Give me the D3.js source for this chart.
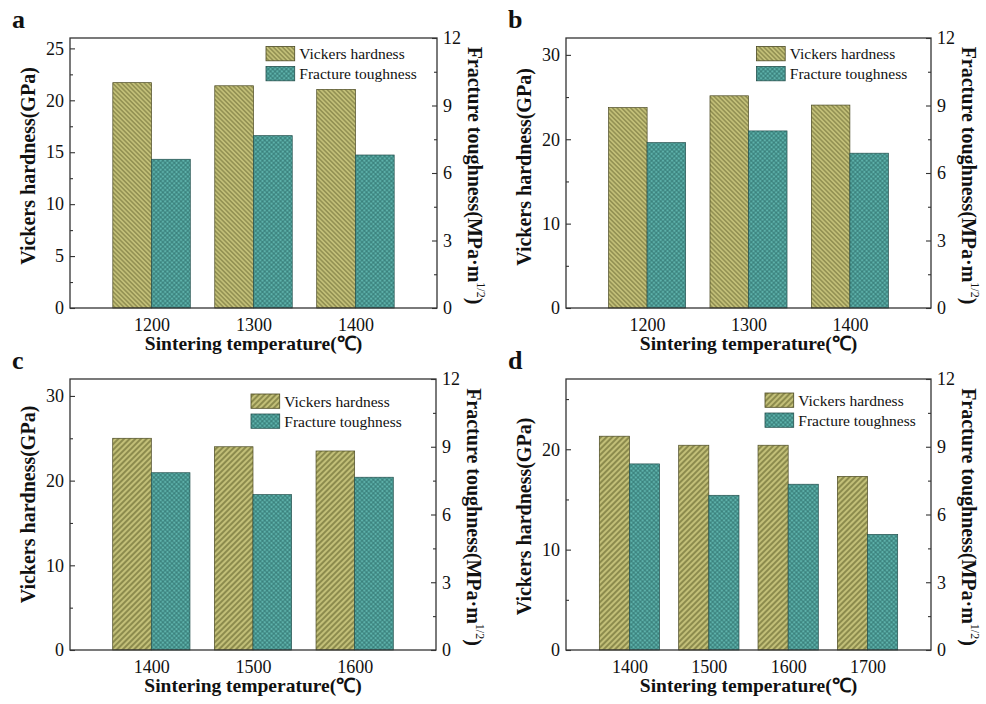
<!DOCTYPE html>
<html>
<head>
<meta charset="utf-8">
<script src="https://cdn.jsdelivr.net/npm/d3@7"></script>
<style>
  body { margin: 0; background: #fff; }
  svg { display: block; }
  text { font-family: "Liberation Serif", "Times New Roman", serif; fill: #111; }
  .tick text { font-size: 18px; font-family: "Liberation Serif", "Times New Roman", serif; }
  .tick line { stroke: #333; stroke-width: 1.1; }
  .title { font-size: 20px; font-weight: bold; }
  .xtitle { font-size: 19.5px; font-weight: bold; }
  .legend text { font-size: 15.5px; }
  .panel-letter { font-size: 26px; font-weight: bold; }
</style>
</head>
<body>
<svg id="fig" width="986" height="704" font-family="Liberation Serif, serif"></svg>
<script>
// Sintering temperatures (°C)
const tempsA = ["1200", "1300", "1400"];
const tempsB = ["1200", "1300", "1400"];
const tempsC = ["1400", "1500", "1600"];
const tempsD = ["1400", "1500", "1600", "1700"];

// Vickers hardness (GPa)
const hardnessA = [21.7, 21.4, 21.05];
const hardnessB = [23.75, 25.15, 24.05];
const hardnessC = [25.0, 24.0, 23.5];
const hardnessD = [21.3, 20.4, 20.4, 17.3];

// Fracture toughness (MPa·m^1/2)
const toughnessA = [6.61, 7.66, 6.8];
const toughnessB = [7.35, 7.87, 6.88];
const toughnessC = [7.85, 6.88, 7.65];
const toughnessD = [8.24, 6.85, 7.34, 5.12];

// Axis ranges and ticks
const hardnessMaxA = 26, hardnessMaxB = 32, hardnessMaxC = 32, hardnessMaxD = 27;
const hardnessTicksA = [0, 5, 10, 15, 20, 25];
const hardnessMinorA = [2.5, 7.5, 12.5, 17.5, 22.5];
const hardnessTicksB = [0, 10, 20, 30];
const hardnessMinorB = [5, 15, 25];
const hardnessTicksC = [0, 10, 20, 30];
const hardnessMinorC = [5, 15, 25];
const hardnessTicksD = [0, 10, 20];
const hardnessMinorD = [5, 15, 25];
const toughnessMax = 12;
const toughnessTicks = [0, 3, 6, 9, 12];
const toughnessMinor = [1.5, 4.5, 7.5, 10.5];

const legendLabels = ["Vickers hardness", "Fracture toughness"];
const xTitle = "Sintering temperature(\u2103)";
const leftTitle = "Vickers hardness(GPa)";

// Panel layout (plot boxes in px, legend offsets, hatch direction)
const panels = [
  { id: "a", temps: tempsA, hard: hardnessA, tough: toughnessA, hMax: hardnessMaxA,
    hTicks: hardnessTicksA, hMinor: hardnessMinorA, hatch: "hatchBack",
    box: { l: 70, r: 437, t: 38, b: 308 }, legend: { dx: 196, dy: 8.5 }, leftShift: -7 },
  { id: "b", temps: tempsB, hard: hardnessB, tough: toughnessB, hMax: hardnessMaxB,
    hTicks: hardnessTicksB, hMinor: hardnessMinorB, hatch: "hatchBack",
    box: { l: 566, r: 931, t: 38, b: 308 }, legend: { dx: 190.5, dy: 8.5 }, leftShift: -6 },
  { id: "c", temps: tempsC, hard: hardnessC, tough: toughnessC, hMax: hardnessMaxC,
    hTicks: hardnessTicksC, hMinor: hardnessMinorC, hatch: "hatchFwd",
    box: { l: 70, r: 436, t: 379, b: 650 }, legend: { dx: 181, dy: 15 }, leftShift: -10 },
  { id: "d", temps: tempsD, hard: hardnessD, tough: toughnessD, hMax: hardnessMaxD,
    hTicks: hardnessTicksD, hMinor: hardnessMinorD, hatch: "hatchFwd",
    box: { l: 566, r: 931, t: 379, b: 650 }, legend: { dx: 199, dy: 14 }, leftShift: 2 }
];

const svg = d3.select("#fig");
const defs = svg.append("defs");

// Single-direction hatch for hardness bars
function lineHatch(id, angle, size, width) {
  const p = defs.append("pattern")
    .attr("id", id)
    .attr("patternUnits", "userSpaceOnUse")
    .attr("width", size).attr("height", size)
    .attr("patternTransform", `rotate(${angle})`);
  p.append("rect").attr("width", size).attr("height", size).attr("fill", "#c2bf78");
  p.append("line")
    .attr("x1", size / 2).attr("x2", size / 2)
    .attr("y1", -1).attr("y2", size + 1)
    .attr("stroke", "#6c6b33").attr("stroke-width", width);
}
lineHatch("hatchBack", -45, 3.2, 0.85);
lineHatch("hatchFwd", 45, 4, 1.25);

// Cross hatch for toughness bars
(function crossHatch() {
  const s = 3.2;
  const p = defs.append("pattern")
    .attr("id", "cross")
    .attr("patternUnits", "userSpaceOnUse")
    .attr("width", s).attr("height", s)
    .attr("patternTransform", "rotate(45)");
  p.append("rect").attr("width", s).attr("height", s).attr("fill", "#5db1aa");
  p.append("line").attr("x1", 0).attr("x2", s).attr("y1", s / 2).attr("y2", s / 2)
    .attr("stroke", "#2f716c").attr("stroke-width", 0.75);
  p.append("line").attr("y1", 0).attr("y2", s).attr("x1", s / 2).attr("x2", s / 2)
    .attr("stroke", "#2f716c").attr("stroke-width", 0.75);
})();

panels.forEach(P => {
  const { l, r, t, b } = P.box;
  const g = svg.append("g").attr("class", "panel-" + P.id);

  const x = d3.scalePoint().domain(P.temps).range([l, r]).padding(0.8);
  const yH = d3.scaleLinear().domain([0, P.hMax]).range([b, t]);
  const yT = d3.scaleLinear().domain([0, toughnessMax]).range([b, t]);
  const bw = x.step() * 0.38;

  // Hardness bars (left of each temperature)
  g.selectAll("rect.hard").data(P.temps.map((c, i) => ({ c, v: P.hard[i] })))
    .join("rect").attr("class", "hard")
    .attr("x", d => x(d.c) - bw).attr("width", bw)
    .attr("y", d => yH(d.v)).attr("height", d => yH(0) - yH(d.v))
    .attr("fill", `url(#${P.hatch})`)
    .attr("stroke", "#4a4922").attr("stroke-width", 0.7);

  // Toughness bars (right of each temperature)
  g.selectAll("rect.tough").data(P.temps.map((c, i) => ({ c, v: P.tough[i] })))
    .join("rect").attr("class", "tough")
    .attr("x", d => x(d.c)).attr("width", bw)
    .attr("y", d => yT(d.v)).attr("height", d => yT(0) - yT(d.v))
    .attr("fill", "url(#cross)")
    .attr("stroke", "#24514e").attr("stroke-width", 0.7);

  // Frame
  g.append("rect")
    .attr("x", l).attr("y", t).attr("width", r - l).attr("height", b - t)
    .attr("fill", "none").attr("stroke", "#333").attr("stroke-width", 1.3);

  // Left axis (hardness)
  const gl = g.append("g").attr("transform", `translate(${l},0)`)
    .call(d3.axisLeft(yH).tickValues(P.hTicks).tickSize(-5).tickPadding(6).tickFormat(d3.format("d")));
  gl.select(".domain").remove();
  const glm = g.append("g").attr("transform", `translate(${l},0)`)
    .call(d3.axisLeft(yH).tickValues(P.hMinor).tickSize(-3).tickFormat(""));
  glm.select(".domain").remove();

  // Right axis (toughness)
  const gr = g.append("g").attr("transform", `translate(${r},0)`)
    .call(d3.axisRight(yT).tickValues(toughnessTicks).tickSize(-5).tickPadding(6).tickFormat(d3.format("d")));
  gr.select(".domain").remove();
  const grm = g.append("g").attr("transform", `translate(${r},0)`)
    .call(d3.axisRight(yT).tickValues(toughnessMinor).tickSize(-3).tickFormat(""));
  grm.select(".domain").remove();

  // Bottom axis (temperatures)
  const gb = g.append("g").attr("transform", `translate(0,${b})`)
    .call(d3.axisBottom(x).tickSize(0).tickPadding(10));
  gb.select(".domain").remove();

  [gl, gr, gb].forEach(a => a.attr("font-family", null).attr("font-size", null));

  // Axis titles
  g.append("text").attr("class", "xtitle")
    .attr("x", (l + r) / 2).attr("y", b + 42)
    .attr("text-anchor", "middle").text(xTitle);

  g.append("text").attr("class", "title")
    .attr("transform", `translate(${l - 35},${(t + b) / 2 + P.leftShift}) rotate(-90)`)
    .attr("text-anchor", "middle").text(leftTitle);

  const rt = g.append("text").attr("class", "title")
    .attr("transform", `translate(${r + 30.5},${(t + b) / 2 + 2.5}) rotate(90)`)
    .attr("text-anchor", "middle");
  rt.append("tspan").text("Fracture toughness(MPa\u00B7m");
  rt.append("tspan").attr("dy", -9).attr("font-size", "12px").attr("font-weight", "normal").text("1/2");
  rt.append("tspan").attr("dy", 9).text(")");

  // Legend
  const lg = g.append("g").attr("class", "legend")
    .attr("transform", `translate(${l + P.legend.dx},${t + P.legend.dy})`);
  const fills = [`url(#${P.hatch})`, "url(#cross)"];
  const strokes = ["#4a4922", "#24514e"];
  legendLabels.forEach((lab, i) => {
    lg.append("rect").attr("x", 0).attr("y", i * 20).attr("width", 28.7).attr("height", 14.3)
      .attr("fill", fills[i]).attr("stroke", strokes[i]).attr("stroke-width", 0.8);
    lg.append("text").attr("x", 33.3).attr("y", i * 20 + 7.2).attr("dy", "0.35em").text(lab);
  });

  // Panel letter
  g.append("text").attr("class", "panel-letter")
    .attr("x", l - 58).attr("y", t - 10).text(P.id);
});
</script>
</body>
</html>
